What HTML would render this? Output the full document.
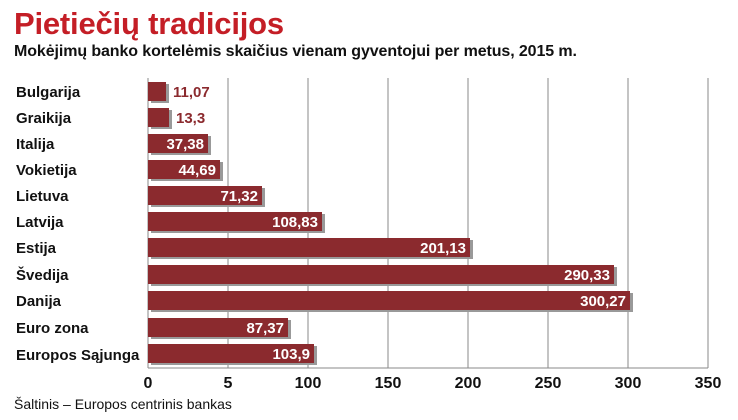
<!DOCTYPE html><html><head><meta charset="utf-8"><style>body{margin:0;background:#fff}svg{display:block}text{font-family:"Liberation Sans",sans-serif}</style></head><body>
<svg width="738" height="420" viewBox="0 0 738 420" xmlns="http://www.w3.org/2000/svg">
<text x="14" y="34" font-size="31" font-weight="bold" fill="#c41e26" letter-spacing="-0.2">Pietiečių tradicijos</text>
<text x="14" y="56" font-size="16" font-weight="bold" fill="#111" letter-spacing="-0.1">Mokėjimų banko kortelėmis skaičius vienam gyventojui per metus, 2015 m.</text>
<g stroke="#888" stroke-width="1">
<line x1="148" y1="78" x2="148" y2="368"/><line x1="228" y1="78" x2="228" y2="368"/><line x1="308" y1="78" x2="308" y2="368"/><line x1="388" y1="78" x2="388" y2="368"/><line x1="468" y1="78" x2="468" y2="368"/><line x1="548" y1="78" x2="548" y2="368"/><line x1="628" y1="78" x2="628" y2="368"/><line x1="708" y1="78" x2="708" y2="368"/>
<line x1="148" y1="368" x2="708" y2="368"/>
</g>
<g font-size="15" font-weight="bold" fill="#111">
<text x="16" y="97">Bulgarija</text><text x="16" y="123">Graikija</text><text x="16" y="149">Italija</text><text x="16" y="175">Vokietija</text><text x="16" y="201">Lietuva</text><text x="16" y="227">Latvija</text><text x="16" y="253">Estija</text><text x="16" y="280">Švedija</text><text x="16" y="306">Danija</text><text x="16" y="333">Euro zona</text><text x="16" y="360">Europos Sąjunga</text>
</g>
<g fill="#999">
<rect x="151" y="84" width="18" height="19"/><rect x="151" y="110" width="21" height="19"/><rect x="151" y="136" width="60" height="19"/><rect x="151" y="162" width="72" height="19"/><rect x="151" y="188" width="114" height="19"/><rect x="151" y="214" width="174" height="19"/><rect x="151" y="240" width="322" height="19"/><rect x="151" y="267" width="466" height="19"/><rect x="151" y="293" width="482" height="19"/><rect x="151" y="320" width="140" height="19"/><rect x="151" y="346" width="166" height="19"/>
</g>
<g fill="#8b2a2e">
<rect x="148" y="82" width="18" height="19"/><rect x="148" y="108" width="21" height="19"/><rect x="148" y="134" width="60" height="19"/><rect x="148" y="160" width="72" height="19"/><rect x="148" y="186" width="114" height="19"/><rect x="148" y="212" width="174" height="19"/><rect x="148" y="238" width="322" height="19"/><rect x="148" y="265" width="466" height="19"/><rect x="148" y="291" width="482" height="19"/><rect x="148" y="318" width="140" height="19"/><rect x="148" y="344" width="166" height="19"/>
</g>
<g font-size="15" font-weight="bold" fill="#8b2a2e">
<text x="173" y="97">11,07</text><text x="176" y="123">13,3</text>
</g>
<g font-size="15" font-weight="bold" fill="#fff" text-anchor="end">
<text x="204" y="149">37,38</text><text x="216" y="175">44,69</text><text x="258" y="201">71,32</text><text x="318" y="227">108,83</text><text x="466" y="253">201,13</text><text x="610" y="280">290,33</text><text x="626" y="306">300,27</text><text x="284" y="333">87,37</text><text x="310" y="359">103,9</text>
</g>
<g font-size="16" font-weight="bold" fill="#111" text-anchor="middle">
<text x="148" y="388">0</text><text x="228" y="388">5</text><text x="308" y="388">100</text><text x="388" y="388">150</text><text x="468" y="388">200</text><text x="548" y="388">250</text><text x="628" y="388">300</text><text x="708" y="388">350</text>
</g>
<text x="14" y="409" font-size="14" fill="#111">Šaltinis – Europos centrinis bankas</text>
</svg></body></html>
